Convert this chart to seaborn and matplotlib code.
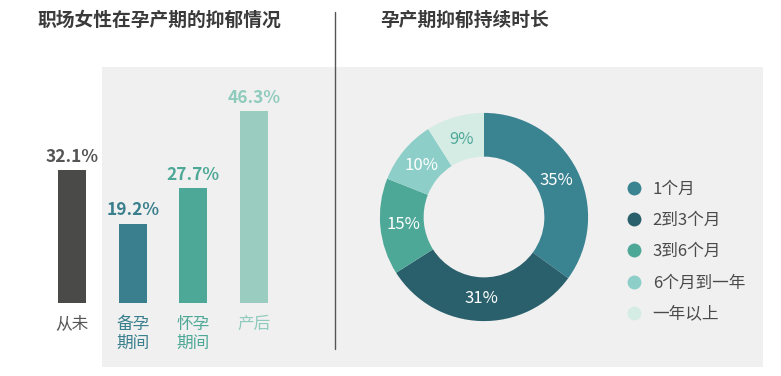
import matplotlib
matplotlib.use("Agg")
import matplotlib.pyplot as plt
import seaborn as sns
import pandas as pd
from matplotlib.patches import Rectangle
from matplotlib.lines import Line2D

# data
bar_cats = ["从未", "备孕\n期间", "怀孕\n期间", "产后"]
bar_vals = [32.1, 19.2, 27.7, 46.3]
bar_colors = ["#4a4a48", "#3a7f8d", "#4ea897", "#9acdc0"]
label_colors = ["#555555", "#3a7f8d", "#4ea897", "#8fcbbd"]

pie_cats = ["1个月", "2到3个月", "3到6个月", "6个月到一年", "一年以上"]
pie_vals = [35, 31, 15, 10, 9]
pie_colors = ["#3a8391", "#2a5f6c", "#4ea897", "#8dcfc8", "#d5ece5"]

sns.set_style("white")
plt.rcParams['font.family'] = ['Noto Sans CJK SC', 'DejaVu Sans']

W, H = 781, 376
fig = plt.figure(figsize=(W/100, H/100), dpi=100)

# gray background panel
fig.patches.append(Rectangle((102/W, 1-367/H), 661/W, 300/H, transform=fig.transFigure,
                             facecolor="#f0f0f0", edgecolor="none", zorder=-5))
# divider
fig.add_artist(Line2D([335/W, 335/W], [1-12/H, 1-349/H], color="#555555", lw=1, zorder=-4))

# titles
fig.text(37/W, 1-20/H, "职场女性在孕产期的抑郁情况", fontsize=13.5, fontweight="bold",
         color="#3a3a3a", va="center", ha="left")
fig.text(380/W, 1-20/H, "孕产期抑郁持续时长", fontsize=13.5, fontweight="bold",
         color="#3a3a3a", va="center", ha="left")

# bar chart
df = pd.DataFrame({"cat": bar_cats, "val": bar_vals})
ax = fig.add_axes([42/W, 1-303/H, 242/W, 207/H])
ax.patch.set_alpha(0)
sns.barplot(data=df, x="cat", y="val", hue="cat", palette=bar_colors, width=0.46,
            saturation=1, linewidth=0, legend=False, ax=ax)
ax.set_xlim(-0.5, 3.5)
ax.set_ylim(0, 50)
for i, v in enumerate(bar_vals):
    ax.text(i, v + 1.0, f"{v}%", ha="center", va="bottom", fontsize=12.5,
            fontweight="bold", color=label_colors[i])
ax.set_xlabel("")
ax.set_ylabel("")
ax.set_yticks([])
ax.tick_params(axis="x", length=0, pad=9, labelsize=12)
for lbl, c in zip(ax.get_xticklabels(), label_colors):
    lbl.set_color(c)
    lbl.set_linespacing(1.2)
for s in ax.spines.values():
    s.set_visible(False)

# donut
size = 229
ax2 = fig.add_axes([(484-size/2)/W, 1-(217+size/2)/H, size/W, size/H])
ax2.patch.set_alpha(0)
wedges, texts, autotexts = ax2.pie(pie_vals, colors=pie_colors, startangle=90,
                                   counterclock=False, radius=1,
                                   autopct=lambda p: f"{p:.0f}%", pctdistance=0.78,
                                   wedgeprops=dict(width=0.42, edgecolor="none"),
                                   textprops=dict(fontsize=12, color="white"))
autotexts[-1].set_color("#4ea897")
ax2.set_xlim(-1.1, 1.1)
ax2.set_ylim(-1.1, 1.1)

handles = [Line2D([], [], marker="o", linestyle="none", markersize=10,
                  markerfacecolor=c, markeredgecolor="none") for c in pie_colors]
fig.legend(handles, pie_cats, loc="upper left", bbox_to_anchor=(611/W, 1-166/H),
           frameon=False, fontsize=12, labelcolor="#4a4a4a", handletextpad=0.6,
           labelspacing=0.85, handlelength=1.0)

fig.savefig("out.png", dpi=100)
